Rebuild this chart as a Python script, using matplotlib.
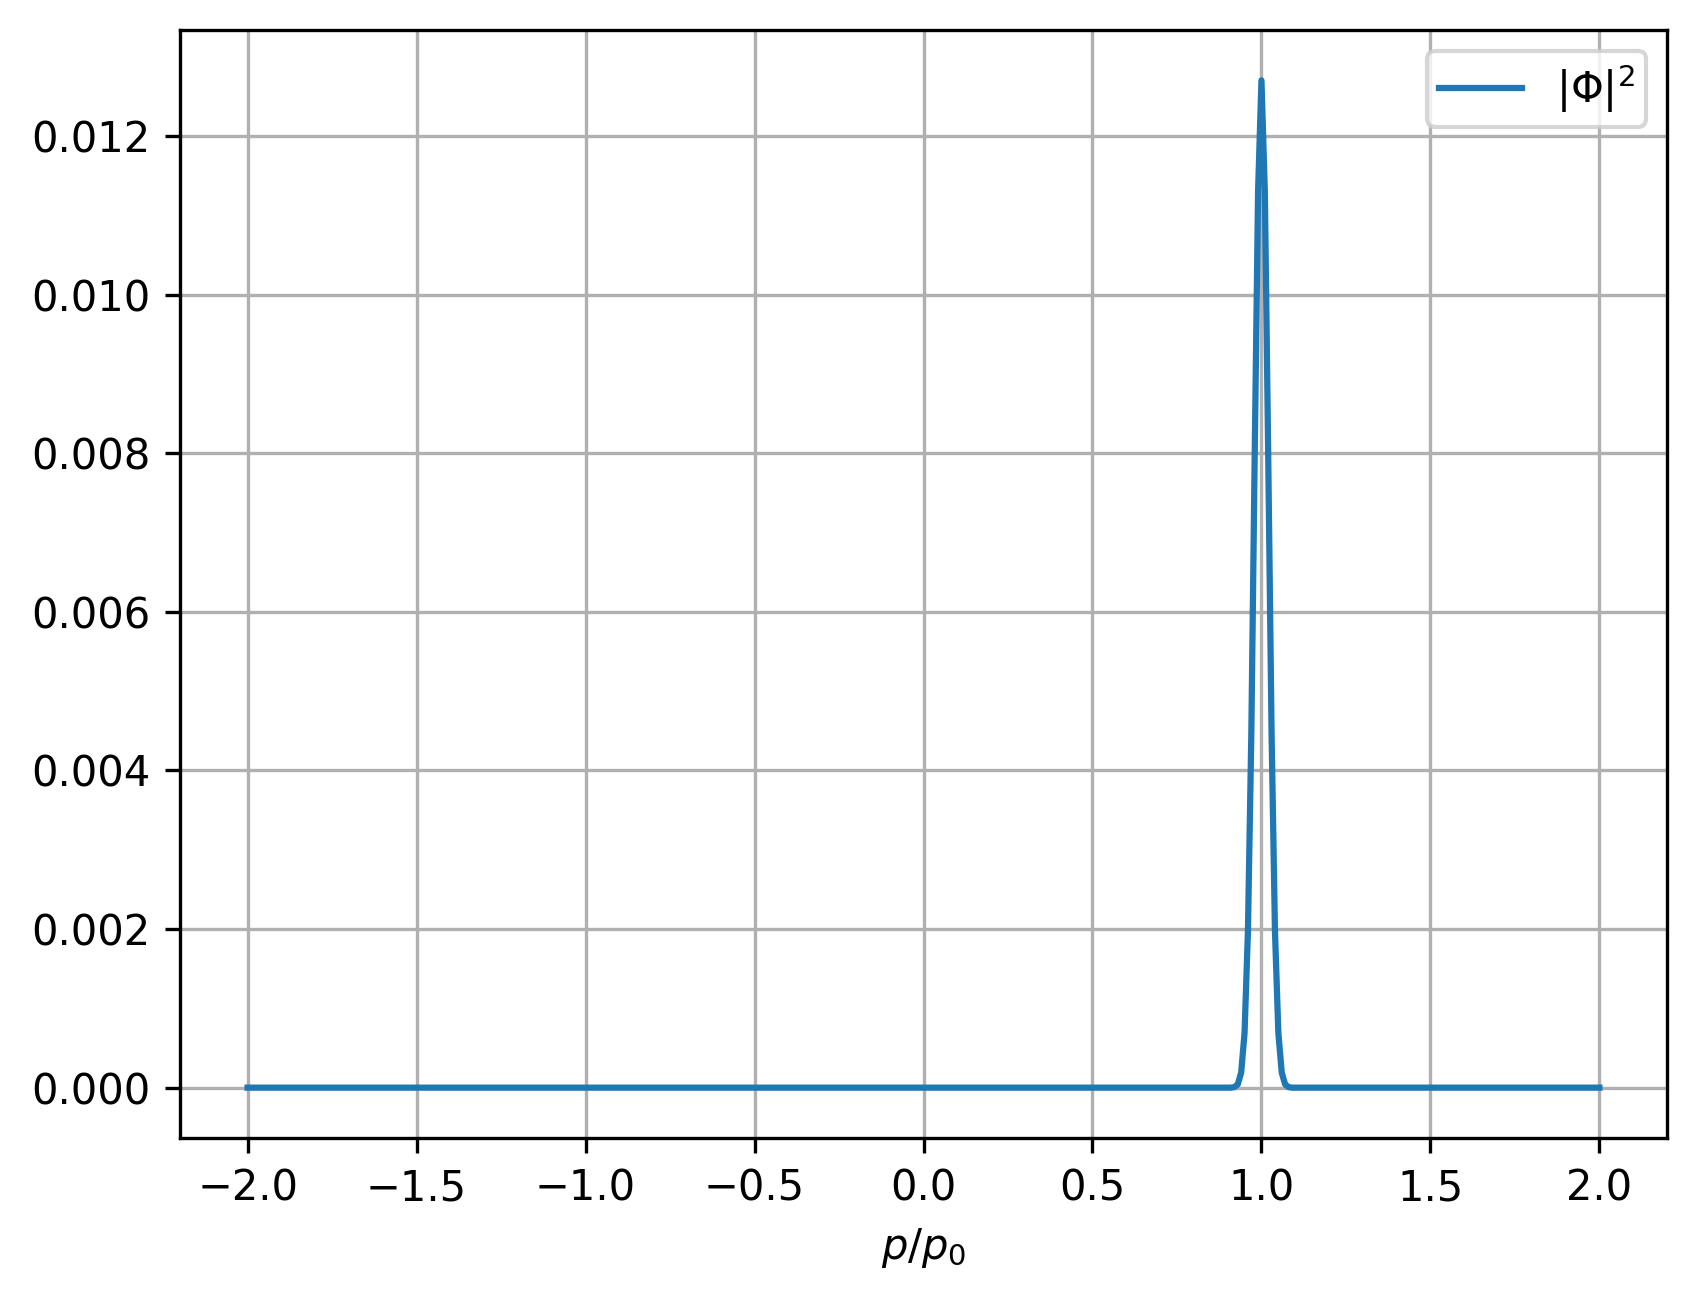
import matplotlib
matplotlib.use('Agg')
import matplotlib.pyplot as plt

# momentum grid (p/p0) and |Phi|^2;
# flat zero outside the peak around p/p0 = 1
p = [-2.0, 0.90, 0.91, 0.92, 0.93, 0.94, 0.95, 0.96, 0.97, 0.98, 0.99,
     1.00, 1.01, 1.02, 1.03, 1.04, 1.05, 1.06, 1.07, 1.08, 1.09, 1.10, 2.0]
phi2 = [0.0, 0.0, 0.0, 0.000007, 0.000042, 0.00019, 0.00069, 0.00197,
        0.00445, 0.00797, 0.0113, 0.0127, 0.0113, 0.00797, 0.00445,
        0.00197, 0.00069, 0.00019, 0.000042, 0.000007, 0.0, 0.0, 0.0]

fig = plt.figure(figsize=(1696 / 300, 1300 / 300), dpi=300)
ax = fig.add_axes([180 / 1696, 1 - 1138 / 1300, 1487 / 1696, 1108 / 1300])

ax.plot(p, phi2, label=r'$|\Phi|^2$')
ax.set_xlabel(r'$p/p_0$')
ax.grid(True)
ax.legend(loc='upper right', borderpad=0.28)

fig.savefig('out.png', dpi=300)
